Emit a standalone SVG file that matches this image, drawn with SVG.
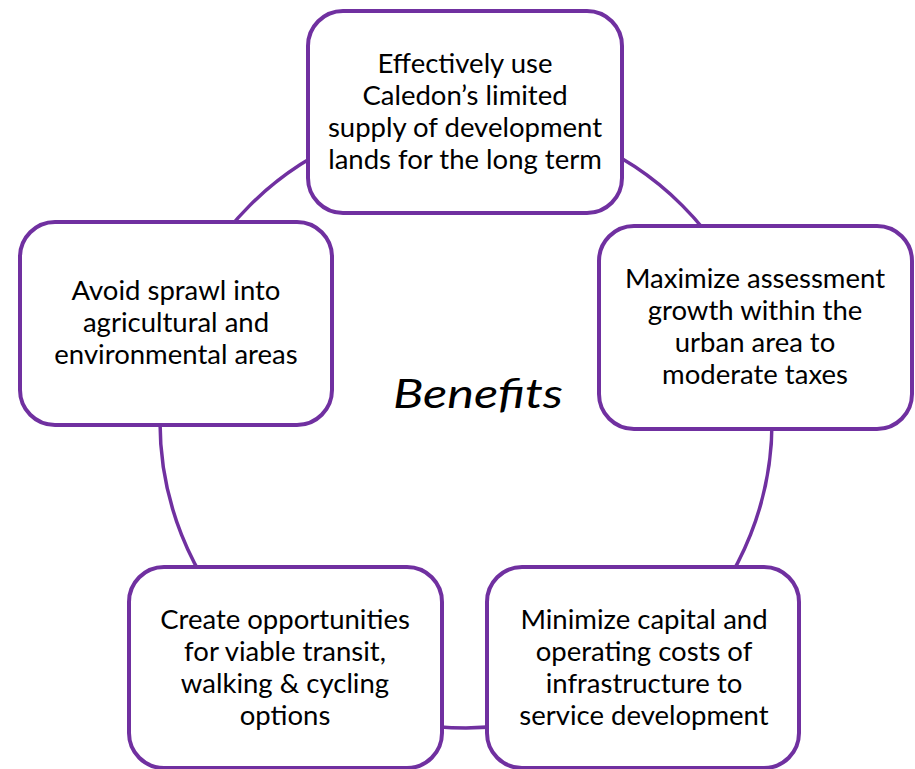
<svg xmlns="http://www.w3.org/2000/svg" width="915" height="769" viewBox="0 0 915 769">
<style>
.box{fill:#fff;stroke:#7030A0;stroke-width:4}
.conn{fill:none;stroke:#7030A0;stroke-width:3.5}
.t{font-family:Lato,"Open Sans","Liberation Sans",sans-serif;font-size:27.5px;fill:#000;text-anchor:middle}
.title{font-family:Lato,"Open Sans","Liberation Sans",sans-serif;font-size:40px;font-style:italic;fill:#000}
</style>
<rect width="915" height="769" fill="#fff"/>
<g id="connectors">
<circle class="conn" cx="466" cy="422" r="306"/>
</g>
<g id="center"><text class="title" x="393" y="408" textLength="170" lengthAdjust="spacingAndGlyphs">Benefits</text></g>
<g id="node-top">
<rect class="box" x="308" y="11" width="314" height="202" rx="35"/>
<text class="t" x="465" y="73">Effectively use</text>
<text class="t" x="465" y="105">Caledon’s limited</text>
<text class="t" x="465" y="137">supply of development</text>
<text class="t" x="465" y="169">lands for the long term</text>
</g>
<g id="node-left">
<rect class="box" x="20" y="222" width="312" height="203" rx="35"/>
<text class="t" x="176" y="300">Avoid sprawl into</text>
<text class="t" x="176" y="332">agricultural and</text>
<text class="t" x="176" y="364">environmental areas</text>
</g>
<g id="node-right">
<rect class="box" x="599" y="226" width="313" height="203" rx="35"/>
<text class="t" x="755" y="288">Maximize assessment</text>
<text class="t" x="755" y="320">growth within the</text>
<text class="t" x="755" y="352">urban area to</text>
<text class="t" x="755" y="384">moderate taxes</text>
</g>
<g id="node-bottom-left">
<rect class="box" x="129" y="567" width="313" height="201" rx="35"/>
<text class="t" x="285" y="629">Create opportunities</text>
<text class="t" x="285" y="661">for viable transit,</text>
<text class="t" x="285" y="693">walking &amp; cycling</text>
<text class="t" x="285" y="725">options</text>
</g>
<g id="node-bottom-right">
<rect class="box" x="487" y="567" width="312" height="201" rx="35"/>
<text class="t" x="644" y="629">Minimize capital and</text>
<text class="t" x="644" y="661">operating costs of</text>
<text class="t" x="644" y="693">infrastructure to</text>
<text class="t" x="644" y="725">service development</text>
</g>
</svg>
